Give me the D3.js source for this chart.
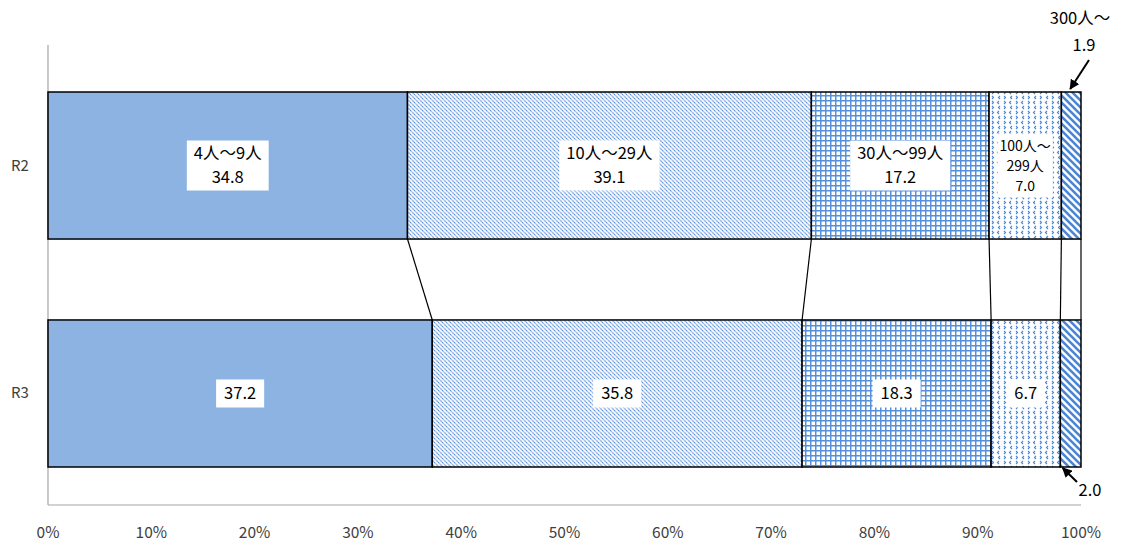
<!DOCTYPE html>
<html>
<head>
<meta charset="utf-8">
<script src="https://cdn.jsdelivr.net/npm/d3@7"></script>
<style>
  body { margin: 0; background: #fff; }
  text { font-family: "Noto Sans CJK JP", "Noto Sans", sans-serif; }
</style>
</head>
<body>
<script>
// data
var years = ["R2", "R3"];
var groups = ["4人～9人", "10人～29人", "30人～99人", "100人～299人", "300人～"];
var valuesR2 = [34.8, 39.1, 17.2, 7.0, 1.9];
var valuesR3 = [37.2, 35.8, 18.3, 6.7, 2.0];
var ticks = [0, 10, 20, 30, 40, 50, 60, 70, 80, 90, 100];

var width = 1123, height = 545;
var margin = {top: 45, right: 42, bottom: 40, left: 48};

var svg = d3.select("body")
  .append("svg")
  .attr("width", width)
  .attr("height", height);

// patterns
var defs = svg.append("defs");
var blue = "#4a86d4";

var p2 = defs.append("pattern").attr("id", "p2")
  .attr("patternUnits", "userSpaceOnUse").attr("width", 4).attr("height", 4);
p2.append("rect").attr("width", 4).attr("height", 4).attr("fill", "#fff");
p2.append("path").attr("d", "M-1,-1 L5,5 M-1,3 L1,5 M3,-1 L5,1")
  .attr("stroke", "#5a90d8").attr("stroke-width", 1.2).attr("stroke-dasharray", "1.6,0.5");

var p3 = defs.append("pattern").attr("id", "p3")
  .attr("patternUnits", "userSpaceOnUse").attr("width", 5).attr("height", 5);
p3.append("rect").attr("width", 5).attr("height", 5).attr("fill", "#fff");
p3.append("path").attr("d", "M0.75,0 L0.75,5 M0,0.75 L5,0.75")
  .attr("stroke", "#5590dc").attr("stroke-width", 1.5);

var p4 = defs.append("pattern").attr("id", "p4")
  .attr("patternUnits", "userSpaceOnUse").attr("width", 12).attr("height", 10);
p4.append("rect").attr("width", 12).attr("height", 10).attr("fill", "#fff");
p4.append("path").attr("d", "M3,1 L1.5,2.5 L3,4 M8,6 L9.5,7.5 L8,9 M8,1 L9.5,2.5 L8,4 M4,6 L2.5,7.5 L4,9")
  .attr("stroke", "#4a86d4").attr("stroke-width", 1.1).attr("fill", "none");

var p5 = defs.append("pattern").attr("id", "p5")
  .attr("patternUnits", "userSpaceOnUse").attr("width", 7).attr("height", 7);
p5.append("rect").attr("width", 7).attr("height", 7).attr("fill", "#fff");
p5.append("path").attr("d", "M-1,-1 L8,8 M-1,6 L1,8 M6,-1 L8,1")
  .attr("stroke", blue).attr("stroke-width", 2.6);

var fills = ["#8db3e2", "url(#p2)", "url(#p3)", "url(#p4)", "url(#p5)"];

// scales
var x = d3.scaleLinear().domain([0, 100]).range([margin.left, width - margin.right]);
var y = d3.scaleBand().domain(years).range([92, 467]).paddingInner(0.355);

// axes
svg.append("line")
  .attr("x1", x(0)).attr("x2", x(0))
  .attr("y1", margin.top).attr("y2", height - margin.bottom)
  .attr("stroke", "#a6a6a6").attr("stroke-width", 1.2);
svg.append("line")
  .attr("x1", x(0)).attr("x2", x(100))
  .attr("y1", height - margin.bottom).attr("y2", height - margin.bottom)
  .attr("stroke", "#a6a6a6").attr("stroke-width", 1.2);

svg.selectAll(".tick-label")
  .data(ticks)
  .enter()
  .append("text")
  .attr("class", "tick-label")
  .attr("x", function(d) { return x(d); })
  .attr("y", 538)
  .attr("text-anchor", "middle")
  .style("font-size", "15.5px")
  .style("fill", "#404040")
  .text(function(d) { return d + "%"; });

svg.selectAll(".cat-label")
  .data(years)
  .enter()
  .append("text")
  .attr("class", "cat-label")
  .attr("x", 20)
  .attr("y", function(d) { return y(d) + y.bandwidth() / 2 + 5; })
  .attr("text-anchor", "middle")
  .style("font-size", "15px")
  .style("fill", "#404040")
  .text(function(d) { return d; });

// stacked rows
function stackRow(vals) {
  var out = [], acc = 0;
  vals.forEach(function(v, i) {
    out.push({i: i, v: v, x0: acc, x1: acc + v});
    acc += v;
  });
  return out;
}
var rows = {R2: stackRow(valuesR2), R3: stackRow(valuesR3)};

// series lines between bars
for (var k = 0; k < groups.length; k++) {
  svg.append("line")
    .attr("x1", x(rows.R2[k].x1)).attr("y1", y("R2") + y.bandwidth())
    .attr("x2", x(rows.R3[k].x1)).attr("y2", y("R3"))
    .attr("stroke", "#000").attr("stroke-width", 1.2);
}

years.forEach(function(yr) {
  svg.append("g")
    .selectAll("rect")
    .data(rows[yr])
    .enter()
    .append("rect")
    .attr("x", function(d) { return x(d.x0); })
    .attr("y", y(yr))
    .attr("width", function(d) { return x(d.x1) - x(d.x0); })
    .attr("height", y.bandwidth())
    .attr("fill", function(d) { return fills[d.i]; })
    .attr("stroke", "#000")
    .attr("stroke-width", 1.5);
});

// label boxes
function labelBox(cx, cy, lines, size, lh, pad) {
  var g = svg.append("g");
  var bg = g.append("rect").attr("fill", "#fff");
  var t = g.selectAll("text")
    .data(lines)
    .enter()
    .append("text")
    .attr("x", cx)
    .attr("y", function(d, i) { return cy + (i - (lines.length - 1) / 2) * lh + size * 0.36; })
    .attr("text-anchor", "middle")
    .style("font-size", size + "px")
    .style("fill", "#000")
    .text(function(d) { return d; });
  var w = 0;
  t.each(function() { w = Math.max(w, this.getComputedTextLength()); });
  bg.attr("x", cx - w / 2 - pad[0]).attr("width", w + pad[0] * 2)
    .attr("y", cy - lines.length * lh / 2 - pad[1]).attr("height", lines.length * lh + pad[1] * 2);
}

var r2c = y("R2") + y.bandwidth() / 2;
var r3c = y("R3") + y.bandwidth() / 2;
for (var j = 0; j < 3; j++) {
  var d2 = rows.R2[j], d3 = rows.R3[j];
  labelBox(x((d2.x0 + d2.x1) / 2), r2c, [groups[j], d2.v.toFixed(1)], 16.5, 24, [7, 1]);
  labelBox(x((d3.x0 + d3.x1) / 2), r3c, [d3.v.toFixed(1)], 16.5, 24, [8, 2]);
}
var d24 = rows.R2[3], d34 = rows.R3[3];
labelBox(x((d24.x0 + d24.x1) / 2), r2c, ["100人～", "299人", d24.v.toFixed(1)], 14, 20, [2, 2]);
labelBox(x((d34.x0 + d34.x1) / 2), r3c, [d34.v.toFixed(1)], 16.5, 24, [7, 2]);

// outside annotations for the smallest group
var d25 = rows.R2[4], d35 = rows.R3[4];
svg.append("text").attr("x", 1080).attr("y", 24).attr("text-anchor", "middle")
  .style("font-size", "16.5px").text(groups[4]);
svg.append("text").attr("x", 1084).attr("y", 51).attr("text-anchor", "middle")
  .style("font-size", "16.5px").text(d25.v.toFixed(1));
svg.append("text").attr("x", 1090).attr("y", 496).attr("text-anchor", "middle")
  .style("font-size", "16.5px").text(d35.v.toFixed(1));

defs.append("marker").attr("id", "arrow")
  .attr("viewBox", "0 0 10 10").attr("refX", 9).attr("refY", 5)
  .attr("markerWidth", 5).attr("markerHeight", 5).attr("orient", "auto")
  .append("path").attr("d", "M0,0 L10,5 L0,10 z").attr("fill", "#000");

svg.append("line")
  .attr("x1", 1089).attr("y1", 60)
  .attr("x2", x((d25.x0 + d25.x1) / 2) - 1).attr("y2", y("R2") - 3)
  .attr("stroke", "#000").attr("stroke-width", 2)
  .attr("marker-end", "url(#arrow)");
svg.append("line")
  .attr("x1", 1077).attr("y1", 482)
  .attr("x2", x((d35.x0 + d35.x1) / 2) - 8).attr("y2", y("R3") + y.bandwidth() + 1)
  .attr("stroke", "#000").attr("stroke-width", 2)
  .attr("marker-end", "url(#arrow)");
</script>
</body>
</html>
